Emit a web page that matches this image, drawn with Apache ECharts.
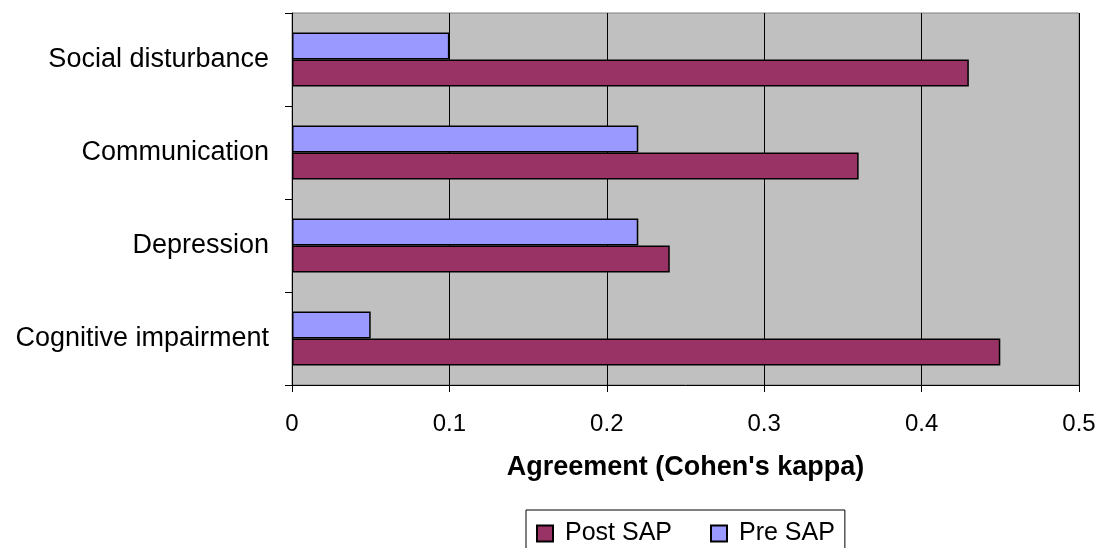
<!DOCTYPE html>
<html>
<head>
<meta charset="utf-8">
<script src="https://cdn.jsdelivr.net/npm/echarts@6/dist/echarts.min.js"></script>
<style>
html,body{margin:0;padding:0;background:#fff;}
#c{width:1104px;height:548px;}
</style>
</head>
<body>
<div id="c"></div>
<script>
const categories = ["Cognitive impairment", "Depression", "Communication", "Social disturbance"];
const postSAP = [0.45, 0.24, 0.36, 0.43];
const preSAP = [0.05, 0.22, 0.22, 0.10];
const xTicks = [0, 0.1, 0.2, 0.3, 0.4, 0.5];

const chart = echarts.init(document.getElementById('c'), null, {renderer: 'canvas'});
const font = '"Liberation Sans", Arial, sans-serif';
chart.setOption({
  animation: false,
  textStyle: {fontFamily: font},
  grid: {
    left: 292, top: 13, right: 25, bottom: 163,
    show: true, backgroundColor: '#C0C0C0', borderColor: '#808080', borderWidth: 1
  },
  xAxis: {
    type: 'value', min: xTicks[0], max: xTicks[xTicks.length - 1], interval: 0.1,
    name: "Agreement (Cohen's kappa)", nameLocation: 'middle', nameGap: 69,
    nameTextStyle: {fontSize: 27, fontWeight: 'bold', color: '#000', fontFamily: font},
    axisLine: {show: true, lineStyle: {color: '#000', width: 1}},
    axisTick: {show: true, length: 7, lineStyle: {color: '#000'}},
    axisLabel: {fontSize: 24, color: '#000', margin: 27, fontFamily: font,
      formatter: v => String(Math.round(v * 10) / 10)},
    splitLine: {show: true, lineStyle: {color: '#000', width: 1}}
  },
  yAxis: {
    type: 'category', data: categories,
    axisLine: {show: true, lineStyle: {color: '#000', width: 1}},
    axisTick: {show: true, length: 7, lineStyle: {color: '#000'}},
    axisLabel: {fontSize: 27, color: '#000', margin: 23, fontFamily: font},
    splitLine: {show: false}
  },
  legend: {
    data: ['Post SAP', 'Pre SAP'],
    left: 526, top: 510,
    orient: 'horizontal',
    itemWidth: 16, itemHeight: 16, itemGap: 38,
    icon: 'rect',
    borderColor: '#000', borderWidth: 1, padding: [11, 10, 11, 10],
    textStyle: {fontSize: 25, color: '#000', fontFamily: font, padding: [0, 0, 0, 7]}
  },
  series: [
    {name: 'Pre SAP', type: 'bar', data: preSAP, barWidth: 27, barGap: '0%',
      itemStyle: {color: '#9999FF', borderColor: '#000', borderWidth: 1.5}},
    {name: 'Post SAP', type: 'bar', data: postSAP, barWidth: 27, barGap: '0%',
      itemStyle: {color: '#993366', borderColor: '#000', borderWidth: 1.5}}
  ]
});
</script>
</body>
</html>
